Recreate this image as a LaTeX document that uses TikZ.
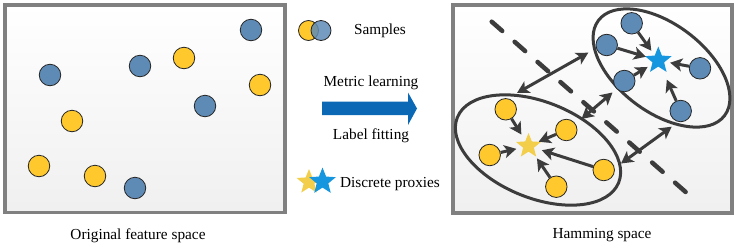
\documentclass[tikz,border=0pt]{standalone}
\usepackage{fontspec}
\setmainfont{Liberation Serif}
\usetikzlibrary{shapes.geometric,arrows.meta}
\definecolor{ptblue}{RGB}{94,139,182}
\definecolor{ptyellow}{RGB}{255,200,45}
\definecolor{stblue}{RGB}{22,150,222}
\definecolor{styellow}{RGB}{242,206,74}
\definecolor{bigarrow}{RGB}{10,104,180}
\definecolor{dk}{RGB}{60,60,60}
\definecolor{frame}{RGB}{128,128,128}
\tikzset{
  pt/.style={circle,minimum size=21.5pt,inner sep=0pt,draw=black!85,line width=0.8pt},
  bpt/.style={pt,fill=ptblue},
  ypt/.style={pt,fill=ptyellow},
  starnode/.style={star,star points=5,star point ratio=2.3,minimum size=28pt,inner sep=0pt},
  panel/.style={draw=frame,line width=3.5pt,top color=white,bottom color=black!6},
  lbl/.style={font=\fontsize{15.3}{18}\selectfont,inner sep=0pt,anchor=base},
  tip/.style={Stealth[length=12pt,width=13pt,inset=3pt]},
  pull/.style={draw=dk,line width=3pt,-{Stealth[length=12pt,width=13pt,inset=3pt]}},
  push/.style={draw=dk,line width=3pt,{Stealth[length=12pt,width=13pt,inset=3pt]}-{Stealth[length=12pt,width=13pt,inset=3pt]}},
  cluster/.style={ellipse,draw=dk,line width=3pt,inner sep=0pt},
}
\begin{document}
\begin{tikzpicture}[x=1pt,y=-1pt]
\useasboundingbox (0,0) rectangle (741,247);
% panels
\draw[panel] (5,5) rectangle (285,212.5);
\draw[panel] (453,5) rectangle (732,213);
% left panel points
\node[bpt] (l1) at (251,30) {};
\node[ypt] (l2) at (184,58) {};
\node[bpt] (l3) at (140,66) {};
\node[bpt] (l4) at (50,75) {};
\node[ypt] (l5) at (260,85) {};
\node[bpt] (l6) at (205,106) {};
\node[ypt] (l7) at (72,121) {};
\node[ypt] (l8) at (39,166) {};
\node[ypt] (l9) at (95,176) {};
\node[bpt] (l10) at (135,188) {};
\node[lbl] (cap1) at (138,239) {Original feature space};
% legend
\node[pt,fill=ptyellow,minimum size=20pt] (lgy) at (308.5,30.5) {};
\node[pt,fill=ptblue,fill opacity=0.85,minimum size=20pt] (lgb) at (321,30.5) {};
\node[lbl] (samples) at (380,34.5) {Samples};
\node[lbl] (metric) at (371,86) {Metric learning};
\fill[bigarrow] (322,101.7) -- (408,101.7) -- (408,92.5) -- (417,108.5) -- (408,125) -- (408,115) -- (322,115) -- cycle;
\node[lbl] (label) at (371,139) {Label fitting};
\node[starnode,fill=styellow,minimum size=26pt] (lsy) at (309,182) {};
\node[starnode,fill=stblue] (lsb) at (322.5,181.5) {};
\node[lbl] (proxies) at (390,187) {Discrete proxies};
% right panel
\coordinate (d1) at (491.7,21.7);
\coordinate (d2) at (696.7,201.7);
\draw[dk,line width=4.5pt,line cap=round,dash pattern=on 14pt off 16.5pt] (d1) -- (d2);
\node[cluster,minimum width=158pt,minimum height=88pt,rotate=-37] (ellU) at (661.5,68) {};
\node[cluster,minimum width=174pt,minimum height=96pt,rotate=-22] (ellL) at (538,150) {};
% blue cluster
\node[starnode,fill=stblue] (sb) at (658.3,60.5) {};
\node[bpt] (b1) at (631.7,23.3) {};
\node[bpt] (b2) at (606.7,45) {};
\node[bpt] (b3) at (700,68.3) {};
\node[bpt] (b4) at (624.3,81) {};
\node[bpt] (b5) at (680.7,111) {};
% yellow cluster
\node[starnode,fill=styellow,minimum size=26pt] (sy) at (528.5,146) {};
\node[ypt] (y1) at (505.7,109.3) {};
\node[ypt] (y2) at (566.3,130) {};
\node[ypt] (y3) at (489.7,155) {};
\node[ypt] (y4) at (603.7,170) {};
\node[ypt] (y5) at (556.3,186.7) {};
% pull arrows
\draw[pull,shorten >=12pt] (b1) -- (sb.center);
\draw[pull,shorten >=13pt] (b2) -- (sb.center);
\draw[pull,shorten >=12pt] (b3) -- (sb.center);
\draw[pull,shorten >=12.5pt] (b4) -- (sb.center);
\draw[pull,shorten >=21pt] (b5) -- (sb.center);
\draw[pull,shorten >=13.5pt] (y1) -- (sy.center);
\draw[pull,shorten >=11pt] (y2) -- (sy.center);
\draw[pull,shorten >=12.5pt] (y3) -- (sy.center);
\draw[pull,shorten >=14pt] (y4) -- (sy.center);
\draw[pull,shorten >=15pt] (y5) -- (sy.center);
% push arrows
\coordinate (p1a) at (517,93);
\coordinate (p1b) at (588.3,52.7);
\coordinate (p2a) at (581.5,119);
\coordinate (p2b) at (612.5,92.5);
\coordinate (p3a) at (621,163.5);
\coordinate (p3b) at (671.7,126.7);
\draw[push] (p1a) -- (p1b);
\draw[push] (p2a) -- (p2b);
\draw[push] (p3a) -- (p3b);
\node[lbl] (cap2) at (602,238) {Hamming space};
\end{tikzpicture}
\end{document}
